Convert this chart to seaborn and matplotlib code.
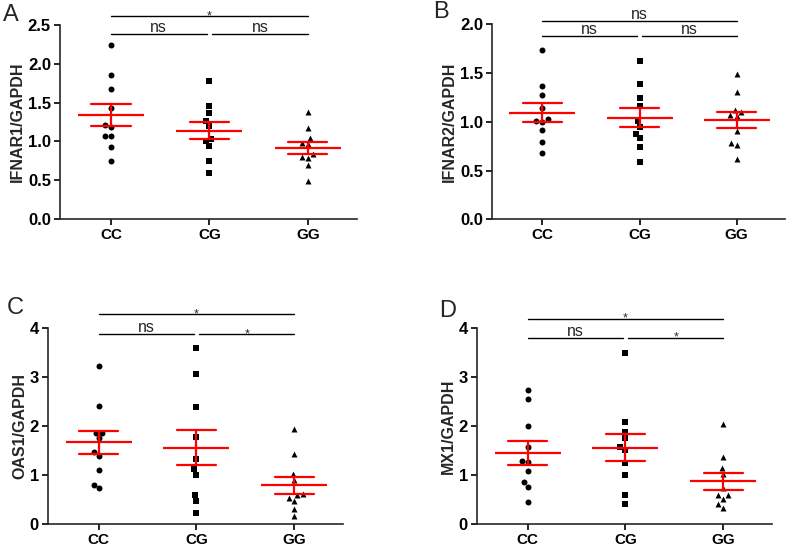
import numpy as np
import pandas as pd
import matplotlib
matplotlib.use("Agg")
import matplotlib.pyplot as plt
import seaborn as sns

genotypes = ["CC", "CG", "GG"]

# IFNAR1 / GAPDH
ifnar1_cc = [2.24, 1.85, 1.67, 1.43, 1.21, 1.18, 1.07, 1.07, 0.935, 0.755]
ifnar1_cg = [1.78, 1.46, 1.36, 1.26, 1.20, 1.03, 1.00, 0.94, 0.755, 0.59]
ifnar1_gg = [1.376, 1.17, 0.97, 0.98, 1.04, 0.84, 0.70, 0.80, 0.79, 0.49]

# IFNAR2 / GAPDH
ifnar2_cc = [1.74, 1.37, 1.275, 1.14, 1.03, 1.01, 1.00, 0.92, 0.79, 0.68]
ifnar2_cg = [1.63, 1.39, 1.24, 1.16, 1.01, 0.95, 0.88, 0.83, 0.74, 0.59]
ifnar2_gg = [1.49, 1.31, 1.12, 1.10, 1.07, 1.055, 0.91, 0.78, 0.76, 0.62]

# OAS1 / GAPDH
oas1_cc = [3.24, 2.42, 1.87, 1.87, 1.76, 1.48, 1.40, 1.11, 0.81, 0.74]
oas1_cg = [3.60, 3.06, 2.40, 1.79, 1.33, 1.12, 1.01, 0.60, 0.48, 0.23]
oas1_gg = [1.95, 1.44, 1.03, 0.91, 0.61, 0.54, 0.59, 0.48, 0.31, 0.16]

# MX1 / GAPDH
mx1_cc = [2.74, 2.56, 2.01, 1.57, 1.29, 1.27, 1.09, 0.86, 0.76, 0.46]
mx1_cg = [3.50, 2.09, 1.89, 1.76, 1.57, 1.52, 1.26, 1.01, 0.59, 0.42]
mx1_gg = [2.05, 1.37, 1.14, 1.02, 0.74, 0.60, 0.60, 0.52, 0.41, 0.33]

# significance: CC vs CG, CG vs GG, CC vs GG
ifnar1_sig = ["ns", "ns", "*"]
ifnar2_sig = ["ns", "ns", "ns"]
oas1_sig = ["ns", "*", "*"]
mx1_sig = ["ns", "*", "*"]

panels = [
    dict(letter="A", ylabel="IFNAR1/GAPDH", values=[ifnar1_cc, ifnar1_cg, ifnar1_gg],
         sig=ifnar1_sig, rect=[0.0762, 0.600, 0.3774, 0.3546], ylim=2.5, step=0.5,
         fmt="{:.1f}", levels=(2.38, 2.61), letter_xy=(0.004, 0.952)),
    dict(letter="B", ylabel="IFNAR2/GAPDH", values=[ifnar2_cc, ifnar2_cg, ifnar2_gg],
         sig=ifnar2_sig, rect=[0.6252, 0.600, 0.3723, 0.3553], ylim=2.0, step=0.5,
         fmt="{:.1f}", levels=(1.88, 2.04), letter_xy=(0.550, 0.958)),
    dict(letter="C", ylabel="OAS1/GAPDH", values=[oas1_cc, oas1_cg, oas1_gg],
         sig=oas1_sig, rect=[0.061, 0.0432, 0.3748, 0.3577], ylim=4, step=1,
         fmt="{:.0f}", levels=(3.88, 4.29), letter_xy=(0.008, 0.417)),
    dict(letter="D", ylabel="MX1/GAPDH", values=[mx1_cc, mx1_cg, mx1_gg],
         sig=mx1_sig, rect=[0.6061, 0.0432, 0.3748, 0.3577], ylim=4, step=1,
         fmt="{:.0f}", levels=(3.81, 4.20), letter_xy=(0.558, 0.413)),
]

markers = ["o", "s", "^"]

sns.set_style("ticks")
plt.rcParams["font.family"] = "Liberation Sans"
plt.rcParams["font.weight"] = "bold"
plt.rcParams["axes.labelweight"] = "bold"
plt.rcParams["axes.linewidth"] = 1.2

fig = plt.figure(figsize=(7.87, 5.48), dpi=100)

for p in panels:
    ax = fig.add_axes(p["rect"])
    df = pd.DataFrame({
        "genotype": np.repeat(genotypes, [len(v) for v in p["values"]]),
        "value": np.concatenate(p["values"]),
    })
    for g, m in zip(genotypes, markers):
        sns.swarmplot(data=df[df["genotype"] == g], x="genotype", y="value",
                      order=genotypes, color="black", marker=m, size=4.3,
                      linewidth=0, ax=ax, zorder=2)
    sns.pointplot(data=df, x="genotype", y="value", order=genotypes,
                  errorbar="se", capsize=0.4, color="red", markers="_",
                  linestyles="none", markersize=47, markeredgewidth=1.6,
                  err_kws={"linewidth": 1.6}, ax=ax, zorder=3)

    ax.set_xlim(-0.52, 2.5)
    ax.set_ylim(0, p["ylim"])
    ax.tick_params(axis="both", direction="out", length=4, width=1.2, colors="black")
    ax.tick_params(axis="x", pad=2.5)
    ax.tick_params(axis="y", pad=2.5)
    ticks = np.arange(0, p["ylim"] + 1e-9, p["step"])
    ax.set_yticks(ticks, [p["fmt"].format(t) for t in ticks],
                  fontsize=12, fontweight="bold")
    ax.set_xticks(range(len(genotypes)), genotypes, fontsize=11, fontweight="bold")
    ax.set_xlabel("")
    ax.set_ylabel(p["ylabel"], fontsize=11.5, fontweight="bold", labelpad=2)
    sns.despine(ax=ax)

    low, high = p["levels"]
    brackets = [(0.0, 0.97, low), (1.03, 2.0, low), (0.0, 2.0, high)]
    for (x0, x1, y), label in zip(brackets, p["sig"]):
        ax.plot([x0, x1], [y, y], color="black", lw=1.0, clip_on=False)
        if label == "*":
            ax.annotate("*", ((x0 + x1) / 2, y), xytext=(0, -2.2),
                        textcoords="offset points", ha="center", va="baseline",
                        fontsize=9, fontweight="normal", annotation_clip=False)
        else:
            ax.annotate(label, ((x0 + x1) / 2, y), xytext=(0, 1.5),
                        textcoords="offset points", ha="center", va="baseline",
                        fontsize=11.5, fontweight="normal", annotation_clip=False)

    fig.text(p["letter_xy"][0], p["letter_xy"][1], p["letter"], fontsize=17,
             fontweight="normal", ha="left", va="bottom")

fig.savefig("out.png", dpi=100)
